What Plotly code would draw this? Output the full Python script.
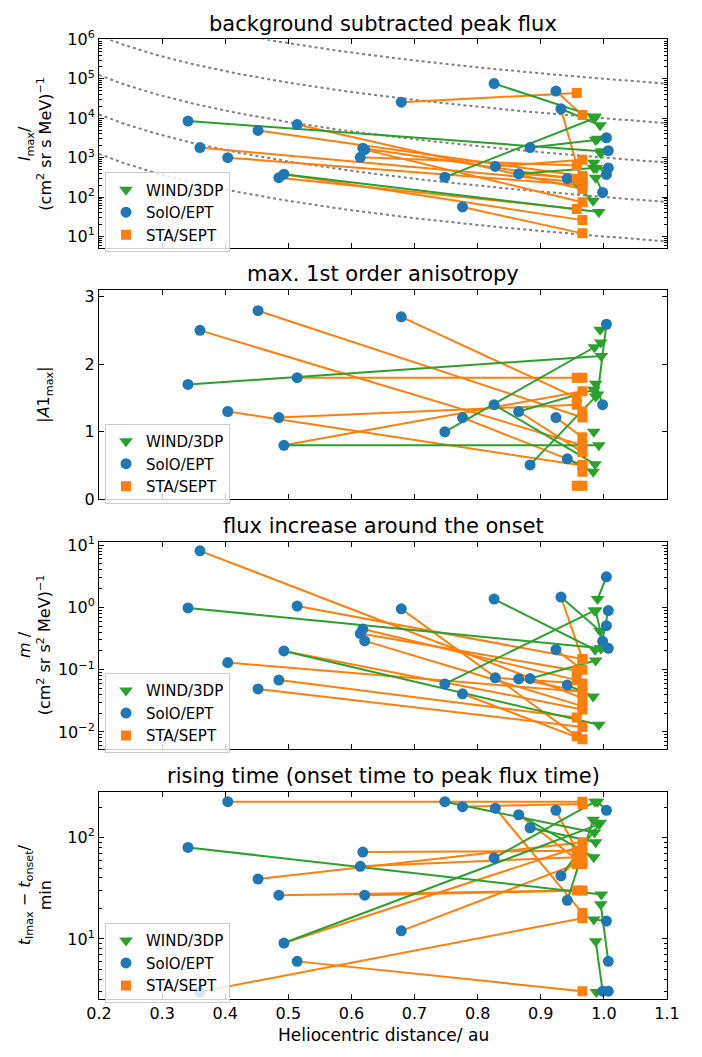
import numpy as np
import plotly.graph_objects as go

# ---------------- data (one entry per event) ----------------
solo_r = [0.341, 0.360, 0.404, 0.452, 0.485, 0.493, 0.514, 0.614, 0.618, 0.621,
          0.679, 0.748, 0.776, 0.826, 0.828, 0.865, 0.883, 0.924, 0.932, 0.942,
          0.998, 1.004, 1.004, 1.007, 1.007]
sta_r = [None, 0.966, 0.966, 0.966, 0.957, 0.966, 0.966, 0.957, 0.957, 0.966,
         0.957, None, 0.966, None, 0.966, 0.966, None, 0.966, 0.966, None,
         None, None, None, None, None]
wind_r = [0.996, None, None, None, None, 0.992, None, None, None, None,
          None, 0.985, None, 0.986, None, 0.984, 0.987, None, 0.994, 0.983,
          0.987, 0.990, 0.984, 0.995, 0.988]

# background subtracted peak flux
imax_solo = [8500, 1800, 1000, 4900, 310, 380, 6900, 1020, 1740, 1600,
             25600, 320, 56, 76000, 600, 390, 1800, 49000, 17400, 295,
             131, 3200, 375, 1500, 550]
imax_sta = [None, 235, 200, 340, 50, 26, 160, 630, 280, 74,
            43500, None, 12, None, 890, 300, None, 12000, 200, None,
            None, None, None, None, None]
imax_wind = [1450, None, None, None, None, 42, None, None, None, None,
             None, 10000, None, 11000, None, 550, 2800, None, 6600, 81,
             310, 3000, 740, 1300, 550]

# max. 1st order anisotropy
a1_solo = [1.70, 2.50, 1.30, 2.79, 1.21, 0.80, 1.80, None, None, None,
           2.70, 1.00, 1.21, 1.40, None, 1.30, 0.51, 1.21, None, 0.60,
           1.40, 2.59, None, None, None]
a1_sta = [None, 0.80, 0.50, 1.21, 1.40, 1.60, 1.80, 0.20, 1.80, 0.20,
          1.50, None, 0.51, None, 1.30, 0.70, None, 0.92, 0.41, None,
          None, None, None, None, None]
a1_wind = [2.12, None, None, None, None, 0.80, None, None, None, None,
           None, 2.25, None, 0.52, None, 1.62, 1.52, None, 2.51, 0.41,
           1.71, 1.55, 1.00, 2.32, None]

# flux increase around the onset
m_solo = [0.98, 8.1, 0.13, 0.049, 0.068, 0.20, 1.05, 0.38, 0.45, 0.29,
          0.95, 0.059, 0.041, 1.36, 0.074, 0.071, 0.072, 0.21, 1.47, 0.057,
          0.285, 3.1, 0.51, 0.89, 0.22]
m_sta = [None, 0.035, 0.044, 0.012, 0.017, 0.023, 0.148, 0.096, 0.068, 0.026,
         0.0085, None, 0.0076, None, 0.060, 0.044, None, 0.10, 0.148, None,
         None, None, None, None, None]
m_wind = [0.22, None, None, None, None, 0.013, None, None, None, None,
          None, 0.89, None, 0.21, None, None, 0.14, None, 0.42, 0.037,
          0.89, 1.36, None, 0.22, None]

# rising time (min)
trise_solo = [80, 3.0, 226, 39, 27, 9.1, 6.0, 52, 72, 27,
              12, 226, 202, 63, 195, 168, 125, 186, 42, 24,
              3.05, 186, 15, 6.0, 3.05]
trise_sta = [None, 16, 226, 90, 30, 83, 3.05, 64, 74, 30,
             55, None, 215, None, 18, 55, None, 58, 70, None,
             None, None, None, None, None]
trise_wind = [27.5, None, None, None, None, 135, None, None, None, None,
              None, 112, None, 226, None, 64, 90, None, 140, 150,
              9.5, 226, 15.5, 22, 3.0]

# guide curves in panel 1: I = level * r^-3
guide_levels = [1e1, 1e2, 1e3, 1e4, 1e5]
guide_power = -3

# tick decades for the log panels
imax_decades = [1, 2, 3, 4, 5, 6]
m_decades = [-2, -1, 0, 1]
trise_decades = [1, 2]

titles = ["background subtracted peak flux", "max. 1st order anisotropy",
          "flux increase around the onset",
          "rising time (onset time to peak flux time)"]
ylabels = ["<i>I</i><sub>max</sub>/<br>(cm<sup>2</sup> sr s MeV)<sup>−1</sup>",
           "|<i>A</i>1<sub>max</sub>|",
           "<i>m</i> /<br>(cm<sup>2</sup> sr s<sup>2</sup> MeV)<sup>−1</sup>",
           "<i>t</i><sub>Imax</sub> − <i>t</i><sub>onset</sub>/<br>min"]
xlabel = "Heliocentric distance/ au"
legend_names = ["WIND/3DP", "SolO/EPT", "STA/SEPT"]

# ---------------- style ----------------
GREEN, BLUE, ORANGE = "#2ca02c", "#1f77b4", "#ff7f0e"
FONT = "DejaVu Sans"
W, H = 702, 1057
ML, MR = 99, 35
PW = W - ML - MR

panels = [
    dict(solo=imax_solo, sta=imax_sta, wind=imax_wind, dec=imax_decades, rng=[0.71, 6.0],
         top=29, bot=241.7, ytitle_x=35),
    dict(solo=a1_solo, sta=a1_sta, wind=a1_wind, dec=None, rng=[0, 3.096],
         top=284.7, bot=498.3, ytitle_x=45),
    dict(solo=m_solo, sta=m_sta, wind=m_wind, dec=m_decades, rng=[-2.27, 1.052],
         top=541.7, bot=752.7, ytitle_x=35),
    dict(solo=trise_solo, sta=trise_sta, wind=trise_wind, dec=trise_decades, rng=[0.41, 2.451],
         top=796.7, bot=1007.7, ytitle_x=35),
]


def px_x(p):
    return (p - ML) / PW


def px_y(p):
    return 1 - p / H


def sup(d):
    return "10<sup>" + (str(d) if d >= 0 else "−" + str(-d)) + "</sup>"


fig = go.Figure()
annotations = []
layout = {}

for k, P in enumerate(panels):
    i = k + 1
    xa = "x" if i == 1 else f"x{i}"
    ya = "y" if i == 1 else f"y{i}"
    leg = "legend" if i == 1 else f"legend{i}"

    if k == 0:
        rr = np.linspace(0.2, 1.1, 200)
        for lv in guide_levels:
            fig.add_trace(go.Scatter(x=rr, y=lv * rr ** guide_power, mode="lines",
                                     line=dict(color="grey", width=2, dash="dot"),
                                     xaxis=xa, yaxis=ya, showlegend=False,
                                     hoverinfo="skip"))

    ox, oy, gx, gy = [], [], [], []
    for e in range(len(solo_r)):
        sv = P["solo"][e]
        if sv is None:
            continue
        if sta_r[e] is not None and P["sta"][e] is not None:
            ox += [solo_r[e], sta_r[e], None]
            oy += [sv, P["sta"][e], None]
        if wind_r[e] is not None and P["wind"][e] is not None:
            gx += [solo_r[e], wind_r[e], None]
            gy += [sv, P["wind"][e], None]
    fig.add_trace(go.Scatter(x=ox, y=oy, mode="lines", line=dict(color=ORANGE, width=2),
                             xaxis=xa, yaxis=ya, showlegend=False, connectgaps=False))
    fig.add_trace(go.Scatter(x=gx, y=gy, mode="lines", line=dict(color=GREEN, width=2),
                             xaxis=xa, yaxis=ya, showlegend=False, connectgaps=False))

    n = len(solo_r)
    wx = [wind_r[e] for e in range(n) if wind_r[e] is not None and P["wind"][e] is not None]
    wy = [P["wind"][e] for e in range(n) if wind_r[e] is not None and P["wind"][e] is not None]
    sx = [solo_r[e] for e in range(n) if P["solo"][e] is not None]
    sy = [P["solo"][e] for e in range(n) if P["solo"][e] is not None]
    tx = [sta_r[e] for e in range(n) if sta_r[e] is not None and P["sta"][e] is not None]
    ty = [P["sta"][e] for e in range(n) if sta_r[e] is not None and P["sta"][e] is not None]

    fig.add_trace(go.Scatter(x=wx, y=wy, mode="markers", name=legend_names[0],
                             marker=dict(symbol="triangle-down", size=12, color=GREEN),
                             xaxis=xa, yaxis=ya, legend=leg))
    fig.add_trace(go.Scatter(x=sx, y=sy, mode="markers", name=legend_names[1],
                             marker=dict(symbol="circle", size=11, color=BLUE),
                             xaxis=xa, yaxis=ya, legend=leg))
    fig.add_trace(go.Scatter(x=tx, y=ty, mode="markers", name=legend_names[2],
                             marker=dict(symbol="square", size=10, color=ORANGE),
                             xaxis=xa, yaxis=ya, legend=leg))

    dom = [px_y(P["bot"]), px_y(P["top"])]
    xkey = "xaxis" if i == 1 else f"xaxis{i}"
    ykey = "yaxis" if i == 1 else f"yaxis{i}"
    layout[xkey] = dict(domain=[0, 1], anchor=ya, range=[0.2, 1.1], dtick=0.1, tick0=0.2,
                        ticks="inside", ticklen=5, tickcolor="black", mirror="allticks",
                        showline=True, linecolor="black", linewidth=1, showgrid=False,
                        zeroline=False, tickformat=".1f", showticklabels=(i == 4),
                        tickfont=dict(size=16, color="black", family=FONT))
    yd = dict(domain=dom, anchor=xa, range=P["rng"], ticks="inside", ticklen=5,
              tickcolor="black", mirror="allticks", showline=True, linecolor="black",
              linewidth=1, showgrid=False, zeroline=False,
              tickfont=dict(size=16, color="black", family=FONT))
    if P["dec"] is not None:
        lo = int(np.floor(P["rng"][0]))
        hi = int(np.ceil(P["rng"][1]))
        minor_vals = [m * 10.0 ** d for d in range(lo, hi + 1) for m in range(2, 10)]
        yd.update(type="log", tickmode="array",
                  tickvals=[10.0 ** d for d in P["dec"]],
                  ticktext=[sup(d) for d in P["dec"]],
                  minor=dict(tickmode="array", tickvals=minor_vals, ticks="inside",
                             ticklen=3, tickcolor="black", showgrid=False))
    else:
        yd.update(dtick=1, tick0=0)
    layout[ykey] = yd

    layout[leg] = dict(x=px_x(105), y=px_y(P["bot"] - 77), xanchor="left", yanchor="top",
                       bgcolor="rgba(255,255,255,0.8)", bordercolor="#cccccc", borderwidth=1,
                       font=dict(size=15, color="black", family=FONT),
                       tracegroupgap=0, itemsizing="trace")

    annotations.append(dict(text=titles[k], x=0.5, xref="paper", yref="paper",
                            y=px_y(P["top"] - 16), xanchor="center", yanchor="middle",
                            showarrow=False, font=dict(size=21, color="black", family=FONT)))
    annotations.append(dict(text=ylabels[k], x=px_x(P["ytitle_x"]), xref="paper", yref="paper",
                            y=px_y((P["top"] + P["bot"]) / 2), xanchor="center",
                            yanchor="middle", textangle=-90, showarrow=False,
                            font=dict(size=16, color="black", family=FONT)))

annotations.append(dict(text=xlabel, x=0.5, xref="paper", yref="paper", y=px_y(1045),
                        xanchor="center", yanchor="middle", showarrow=False,
                        font=dict(size=17, color="black", family=FONT)))

fig.update_layout(width=W, height=H, margin=dict(l=ML, r=MR, t=0, b=0),
                  paper_bgcolor="white", plot_bgcolor="white",
                  font=dict(family=FONT, color="black"),
                  annotations=annotations, **layout)

fig.write_html("out.html")
